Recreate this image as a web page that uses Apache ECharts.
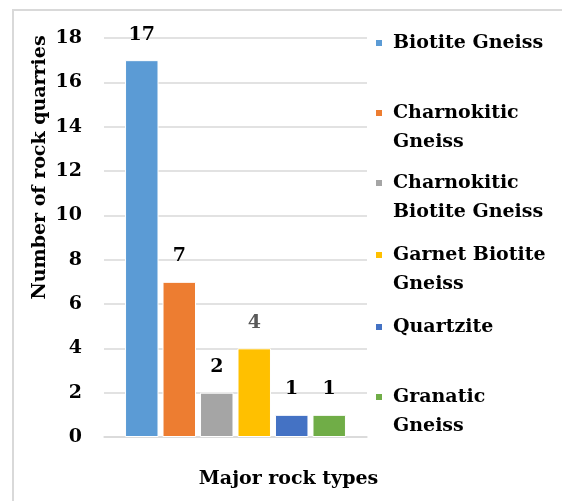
<!DOCTYPE html>
<html>
<head>
<meta charset="utf-8">
<script src="https://cdn.jsdelivr.net/npm/echarts@6/dist/echarts.min.js"></script>
<style>
  html, body { margin: 0; padding: 0; background: #fff; }
  #root { width: 562px; height: 501px; }
</style>
</head>
<body>
<div id="root"></div>
<script>
  // rock types and quarry counts
  const rockTypes = [
    'Biotite Gneiss',
    'Charnokitic\nGneiss',
    'Charnokitic\nBiotite Gneiss',
    'Garnet Biotite\nGneiss',
    'Quartzite',
    'Granatic\nGneiss'
  ]
  const quarryCounts = [17, 7, 2, 4, 1, 1]
  const yTicks = [0, 2, 4, 6, 8, 10, 12, 14, 16, 18]

  const colors = ['#5B9BD5', '#ED7D31', '#A5A5A5', '#FFC000', '#4472C4', '#70AD47']
  const labelColors = ['#000', '#000', '#000', '#595959', '#000', '#000']
  const font = 'DejaVu Serif'

  const chart = echarts.init(document.getElementById('root'))

  const seriesList = rockTypes.map((name, i) => ({
    type: 'bar',
    name: name,
    data: [quarryCounts[i]],
    barGap: '12%',
    barCategoryGap: '16%',
    itemStyle: { color: colors[i], borderColor: '#fff', borderWidth: 1 },
    label: {
      show: true,
      position: 'top',
      distance: 16,
      fontFamily: font,
      fontWeight: 'bold',
      fontSize: 19,
      color: labelColors[i]
    }
  }))

  // one legend per item so the markers sit on the first text line
  const iconCenters = [43, 113, 183, 255, 327, 397]
  const legends = rockTypes.map((name, i) => {
    const multi = name.indexOf('\n') >= 0
    return {
      data: [name],
      left: 374,
      top: iconCenters[i] - (multi ? 43.5 : 14.5),
      padding: 0,
      icon: 'rect',
      itemWidth: 8,
      itemHeight: 8,
      formatter: n => (n.indexOf('\n') >= 0 ? '\n' + n : n),
      textStyle: {
        fontFamily: font,
        fontWeight: 'bold',
        fontSize: 19,
        lineHeight: 29,
        color: '#000',
        padding: [0, 0, 0, 5]
      }
    }
  })

  const option = {
    animation: false,
    color: colors,
    graphic: [{
      type: 'rect',
      shape: { x: 13, y: 10, width: 700, height: 700 },
      style: { fill: 'none', stroke: '#d9d9d9', lineWidth: 2 },
      silent: true
    }],
    grid: { left: 104, right: 195, top: 38, bottom: 64 },
    legend: legends,
    xAxis: {
      type: 'category',
      data: [''],
      axisLine: { lineStyle: { color: '#d9d9d9', width: 1.5 } },
      axisTick: { show: false },
      axisLabel: { show: false },
      name: 'Major rock types',
      nameLocation: 'middle',
      nameGap: 33,
      nameTextStyle: {
        fontFamily: font,
        fontWeight: 'bold',
        fontSize: 19,
        color: '#000',
        padding: [0, 0, 0, 106]
      }
    },
    yAxis: {
      type: 'value',
      min: yTicks[0],
      max: yTicks[yTicks.length - 1],
      interval: yTicks[1] - yTicks[0],
      axisLine: { show: false },
      axisTick: { show: false },
      splitLine: { lineStyle: { color: '#d9d9d9', width: 1.5 } },
      axisLabel: {
        margin: 22,
        fontFamily: font,
        fontWeight: 'bold',
        fontSize: 19,
        color: '#000'
      },
      name: 'Number of rock quarries',
      nameLocation: 'middle',
      nameRotate: 90,
      nameGap: 54,
      nameTextStyle: {
        fontFamily: font,
        fontWeight: 'bold',
        fontSize: 19,
        color: '#000',
        padding: [0, 0, 0, 140]
      }
    },
    series: seriesList
  }
  chart.setOption(option)
</script>
</body>
</html>
